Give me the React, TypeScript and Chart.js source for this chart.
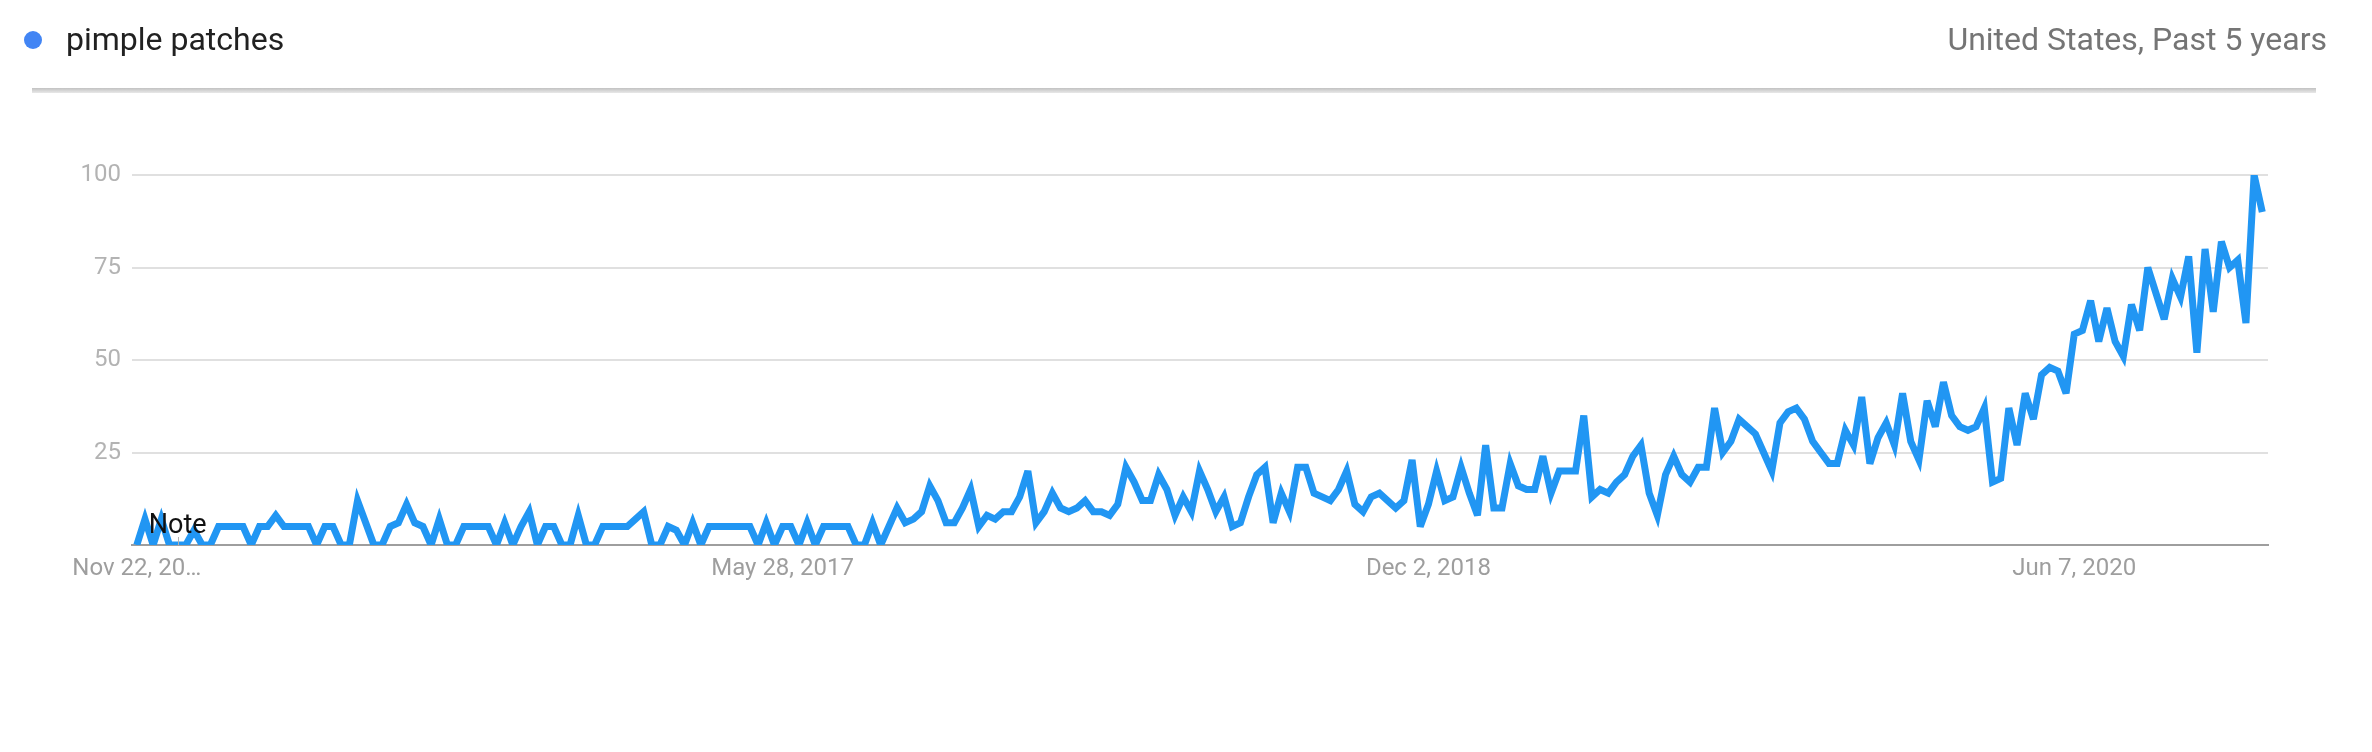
import React, { useEffect, useRef } from 'react';
import { Chart, registerables } from 'chart.js';

Chart.register(...registerables);

// Weekly interest values (Google-Trends-like, 0..100), Nov 22 2015 onwards
const weeks2015_16 = [0, 7, 0, 7, 0, 0, 0, 4, 0, 0, 5, 5, 5, 5, 0, 5, 5, 8, 5, 5, 5, 5, 0, 5, 5, 0, 0, 12, 6, 0, 0, 5, 6, 11, 6, 5, 0, 7, 0, 0, 5, 5, 5, 5, 0, 6, 0, 5, 9, 0, 5, 5];
const weeks2016_17 = [0, 0, 8, 0, 0, 5, 5, 5, 5, 7, 9, 0, 0, 5, 4, 0, 6, 0, 5, 5, 5, 5, 5, 5, 0, 6, 0, 5, 5, 0, 6, 0, 5, 5, 5, 5, 0, 0, 6, 0, 5, 10, 6, 7, 9, 16, 12, 6, 6, 10, 15, 5];
const weeks2017_18 = [8, 7, 9, 9, 13, 20, 6, 9, 14, 10, 9, 10, 12, 9, 9, 8, 11, 21, 17, 12, 12, 19, 15, 8, 13, 9, 20, 15, 9, 13, 5, 6, 13, 19, 21, 6, 14, 9, 21, 21, 14, 13, 12, 15, 20, 11, 9, 13, 14, 12, 10, 12];
const weeks2018_19 = [23, 5, 11, 20, 12, 13, 21, 14, 8, 27, 10, 10, 22, 16, 15, 15, 24, 14, 20, 20, 20, 35, 13, 15, 14, 17, 19, 24, 27, 14, 8, 19, 24, 19, 17, 21, 21, 37, 25, 28, 34, 32, 30, 25, 20, 33, 36, 37, 34, 28, 25, 22];
const weeks2019_20 = [22, 31, 27, 40, 22, 29, 33, 27, 41, 28, 23, 39, 32, 44, 35, 32, 31, 32, 37, 17, 18, 37, 27, 41, 34, 46, 48, 47, 41, 57, 58, 66, 55, 64, 55, 51, 65, 58, 75, 68, 61, 72, 67, 78, 52, 80, 63, 82, 75, 77, 60, 100, 90];

const TICK_WEEKS = [0, 79, 158, 237];
const TICK_LABELS = ['Nov 22, 20…', 'May 28, 2017', 'Dec 2, 2018', 'Jun 7, 2020'];
const Y_TICKS = [0, 25, 50, 75, 100];
const NOTE_WEEK = 5;
const NOTE_TEXT = 'Note';
const SERIES_NAME = 'pimple patches';
const SUBTITLE = 'United States, Past 5 years';

const values = [...weeks2015_16, ...weeks2016_17, ...weeks2017_18, ...weeks2018_19, ...weeks2019_20];

const miterPlugin = {
  id: 'miterPlugin',
  beforeDatasetsDraw(chart: any) {
    chart.ctx.miterLimit = 4;
  },
};

const notePlugin = {
  id: 'notePlugin',
  afterDatasetsDraw(chart: any) {
    const { ctx, scales } = chart;
    const x = scales.x.getPixelForValue(NOTE_WEEK);
    const y0 = scales.y.getPixelForValue(0);
    ctx.save();
    ctx.strokeStyle = '#b0b0b0';
    ctx.lineWidth = 1;
    ctx.beginPath();
    ctx.moveTo(Math.round(x) + 0.5, y0 - 8);
    ctx.lineTo(Math.round(x) + 0.5, y0);
    ctx.stroke();
    ctx.fillStyle = '#111111';
    ctx.font = '27px Roboto';
    ctx.textAlign = 'center';
    ctx.textBaseline = 'alphabetic';
    ctx.fillText(NOTE_TEXT, x, y0 - 12);
    ctx.restore();
  },
};

export default function App() {
  const canvasRef = useRef<HTMLCanvasElement | null>(null);

  useEffect(() => {
    const canvas = canvasRef.current;
    if (!canvas) return;
    const points = values.map((v, i) => ({ x: i, y: v }));
    const chart = new Chart(canvas, {
      type: 'line',
      data: {
        datasets: [
          {
            label: SERIES_NAME,
            data: points,
            borderColor: '#2196f3',
            borderWidth: 7,
            borderJoinStyle: 'miter',
            pointRadius: 0,
            pointHoverRadius: 0,
            tension: 0,
            fill: false,
            clip: 0,
          } as any,
        ],
      },
      options: {
        animation: false,
        responsive: false,
        maintainAspectRatio: false,
        events: [],
        layout: { padding: { left: 0, top: 175, right: 104, bottom: 147 } },
        plugins: { legend: { display: false }, tooltip: { enabled: false } },
        scales: {
          x: {
            type: 'linear',
            min: -0.587,
            max: 260.7,
            grid: { display: false, drawTicks: false },
            border: { display: true, color: '#9e9e9e', width: 2 },
            afterBuildTicks: (s: any) => {
              s.ticks = TICK_WEEKS.map((v) => ({ value: v }));
            },
            afterFit: (s: any) => {
              s.height = 60;
            },
            ticks: {
              autoSkip: false,
              maxRotation: 0,
              minRotation: 0,
              padding: 10,
              color: '#9e9e9e',
              font: { family: 'Roboto', size: 24 },
              callback: (v: any) => {
                const k = TICK_WEEKS.indexOf(Number(v));
                return k >= 0 ? TICK_LABELS[k] : '';
              },
            },
          },
          y: {
            type: 'linear',
            min: 0,
            max: 100,
            grid: { color: '#e0e0e0', lineWidth: 2, drawTicks: false },
            border: { display: false },
            afterBuildTicks: (s: any) => {
              s.ticks = Y_TICKS.map((v) => ({ value: v }));
            },
            afterFit: (s: any) => {
              s.width = 132;
            },
            ticks: {
              padding: 11,
              color: '#b3b3b3',
              font: { family: 'Roboto', size: 24 },
              callback: (v: any) => (Number(v) === 0 ? '' : String(v)),
            },
          },
        },
      },
      plugins: [miterPlugin, notePlugin],
    });
    return () => chart.destroy();
  }, []);

  return (
    <div style={{ position: 'absolute', left: 0, top: 0, width: 2372, height: 752, overflow: 'hidden', background: '#fff', fontFamily: 'Roboto, sans-serif' }}>
      <canvas ref={canvasRef} width={2372} height={752} style={{ position: 'absolute', left: 0, top: 0, width: 2372, height: 752, display: 'block' }} />
      <div style={{ position: 'absolute', left: 24, top: 31, width: 18, height: 18, borderRadius: '50%', background: '#4285f4' }} />
      <div style={{ position: 'absolute', left: 66, top: 19, fontSize: 32, lineHeight: '40px', color: '#212121', whiteSpace: 'nowrap' }}>{SERIES_NAME}</div>
      <div style={{ position: 'absolute', right: 45, top: 19, fontSize: 32, lineHeight: '40px', color: '#757575', whiteSpace: 'nowrap' }}>{SUBTITLE}</div>
      <div style={{ position: 'absolute', left: 32, top: 88, width: 2284, height: 5, background: 'linear-gradient(to bottom, #c2c2c2, #e8e8e8)' }} />
    </div>
  );
}
